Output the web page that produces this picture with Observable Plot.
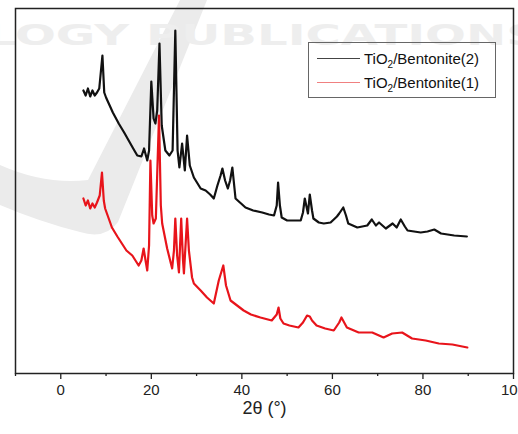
<!DOCTYPE html>
<html>
<head>
<meta charset="utf-8">
<script src="https://cdn.jsdelivr.net/npm/d3@7"></script>
<script src="https://cdn.jsdelivr.net/npm/@observablehq/plot@0.6"></script>
<style>
  body { margin: 0; background: #fff; }
  #wrap { position: relative; width: 518px; height: 434px; overflow: hidden; font-family: "Liberation Sans", Arial, sans-serif; }
  #wm, #chart { position: absolute; left: 0; top: 0; }
  #legend { position: absolute; left: 308px; top: 42px; width: 188px; height: 56px; border: 1px solid #666; box-sizing: border-box; }
  .row { position: absolute; left: 8px; height: 20px; display: flex; align-items: center; font-size: 15px; color: #111; white-space: nowrap; }
  .sw { width: 43px; height: 0; border-top: 1px solid; margin-right: 4px; }
  sub { font-size: 10px; vertical-align: -4px; line-height: 0; }
</style>
</head>
<body>
<div id="wrap">
  <svg id="wm" width="518" height="434">
    <path d="M 180 0 L 207 0 L 118 222 Q 105 240 80 232 Q 40 222 0 205 L 0 165 Q 45 185 88 180 Z" fill="#ebebeb"/>
    <text x="-14" y="45" textLength="555" lengthAdjust="spacingAndGlyphs" font-size="28" font-weight="bold" fill="#eeeeee" font-family="DejaVu Sans">LOGY PUBLICATIONS</text>
  </svg>
  <div id="chart"></div>
  <div id="legend">
    <div class="row" style="top:5px"><span class="sw" style="border-color:#444"></span><span>TiO<sub>2</sub>/Bentonite(2)</span></div>
    <div class="row" style="top:29px"><span class="sw" style="border-color:#f08080"></span><span>TiO<sub>2</sub>/Bentonite(1)</span></div>
  </div>
</div>
<script>
// 2θ (degrees) and relative intensity (a.u., offset traces)
const theta2 = [5.0,5.5,6.0,6.5,7.0,7.5,8.0,8.5,9.2,9.6,10.0,10.6,11.5,12.8,14.0,15.0,16.0,16.9,17.8,18.4,19.1,19.5,20.0,20.5,20.9,21.3,21.8,22.3,23.1,24.0,24.7,25.3,25.8,26.2,26.8,27.4,27.9,28.5,29.4,30.9,32.0,33.0,33.8,34.6,35.3,35.7,36.3,36.9,37.4,37.9,38.6,40.8,42.5,44.5,46.0,47.1,47.7,48.0,48.4,48.8,50.0,51.5,53.0,53.5,53.9,54.6,55.0,55.5,55.8,57.0,58.1,59.6,61.0,61.5,62.4,63.0,63.5,65.5,67.7,68.7,69.6,70.3,71.8,73.3,74.2,75.1,76.0,76.6,79.5,81.0,82.5,84.0,86.9,89.7];
const ypx2 = [90,95,88,96,90,95,92,88,55,92,97,103,112,123,132,140,148,155,156,148,160,150,81,118,123,110,43,125,150,155,150,30,150,167,143,170,135,165,177,188,190,194,198,185,175,168,180,188,180,167,198,207,210,212,214,215,205,182,205,217,220,220,220,212,198,213,194,210,218,222,223,222,216,213,207,215,223,227,225,219,225,222,228,223,227,219,226,230,232,231,229,233,235,236];
const theta1 = [5.0,5.5,6.0,6.5,7.0,7.5,8.0,8.6,9.1,9.5,9.8,11.3,12.5,13.5,14.5,15.8,17.2,17.8,18.3,18.8,19.1,19.5,19.8,20.2,20.5,21.0,21.7,22.1,22.4,23.5,24.6,25.0,25.3,25.7,26.1,26.6,27.0,27.2,27.9,28.3,29.0,29.4,30.9,32.3,33.8,34.9,35.9,36.5,37.5,40.4,42.0,44.1,46.6,47.7,48.1,48.5,49.2,50.5,52.5,53.5,54.4,55.0,55.5,56.5,58.4,60.3,61.5,62.0,62.6,63.2,65.8,68.8,71.3,73.2,75.4,76.5,77.6,80.6,83.5,86.5,89.8];
const ypx1 = [198,205,200,208,203,207,202,195,172,200,208,227,236,243,250,255,265,260,248,262,270,245,160,215,223,218,115,205,223,248,268,250,218,255,272,218,260,273,218,250,277,283,290,297,303,280,265,285,300,310,314,317,320,314,307,318,323,325,327,322,315,316,320,325,328,330,322,317,322,327,332,332,337,333,332,335,338,340,343,344,347];
const seriesNames = ["TiO2/Bentonite(2)", "TiO2/Bentonite(1)"];
const xTicks = [0, 20, 40, 60, 80, 100];
const xMinor = [-10, 10, 30, 50, 70, 90];
const xLabel = "2θ (°)";

// intensity in a.u. = height above the bottom of the frame
const base = 373;
const s2 = theta2.map((t, i) => ({x: t, y: base - ypx2[i], s: seriesNames[0]}));
const s1 = theta1.map((t, i) => ({x: t, y: base - ypx1[i], s: seriesNames[1]}));

const plot = Plot.plot({
  width: 518,
  height: 434,
  marginLeft: 15,
  marginRight: 5,
  marginTop: 8,
  marginBottom: 61,
  style: {background: "transparent", fontFamily: "Liberation Sans, Arial, sans-serif", fontSize: "15px", color: "#222"},
  x: {domain: [-10, 100]},
  y: {domain: [0, 365], axis: null},
  marks: [
    Plot.line(s2, {x: "x", y: "y", stroke: "#111", strokeWidth: 2.2}),
    Plot.line(s1, {x: "x", y: "y", stroke: "#e8141b", strokeWidth: 2.2}),
    Plot.axisX(xMinor, {tickSize: 3, text: null, label: null, stroke: "#222", strokeWidth: 1.3}),
    Plot.axisX(xTicks, {tickSize: 6, tickPadding: 5, label: null, fontSize: 15, stroke: "#222", strokeWidth: 1.3}),
    Plot.text([xLabel], {frameAnchor: "bottom", dy: 40, fontSize: 18, fill: "#222"}),
    Plot.frame({stroke: "#222", strokeWidth: 1.5})
  ]
});
document.getElementById("chart").appendChild(plot);
</script>
</body>
</html>
